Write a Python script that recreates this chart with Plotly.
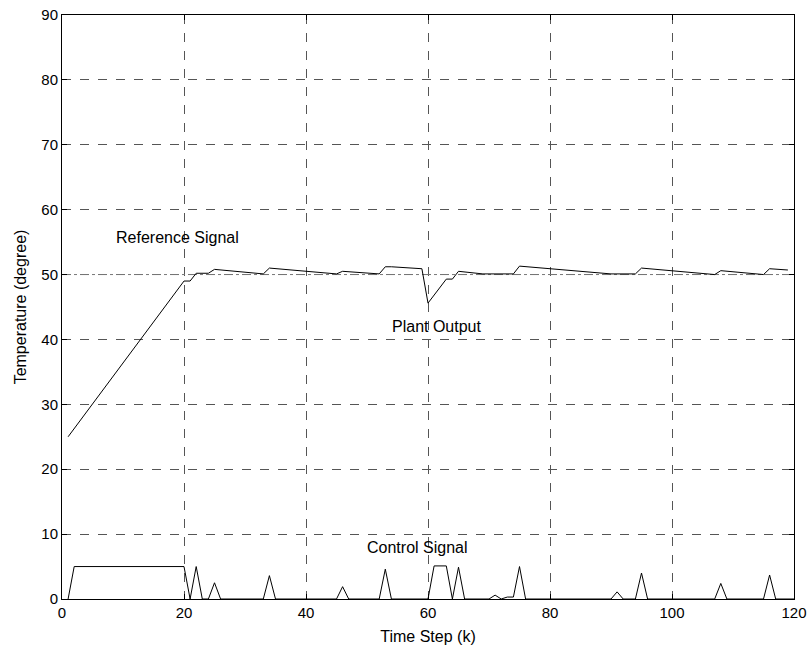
import plotly.graph_objects as go

# Plant output (breakpoints)
plant_k = [1, 20, 21, 22, 24, 25, 33, 34, 45, 46, 52, 53, 54, 59, 60, 63, 64, 65,
           69, 74, 75, 90, 94, 95, 107, 108, 115, 116, 119]
plant_y = [25, 49, 49, 50.2, 50.2, 50.8, 50.1, 51.0, 50.1, 50.5, 50.1, 51.2, 51.2,
           50.9, 45.6, 49.3, 49.3, 50.5, 50.1, 50.1, 51.3, 50.1, 50.1, 51.0, 50.0,
           50.6, 50.0, 50.9, 50.7]

# Reference signal
ref_k = [0, 120]
ref_y = [50, 50]

# Control signal (breakpoints)
ctrl_k = [1, 2, 20, 21, 22, 23, 24, 25, 26, 33, 34, 35, 45, 46, 47, 52, 53, 54,
          60, 61, 63, 64, 65, 66, 70, 71, 72, 73, 74, 75, 76, 90, 91, 92, 94, 95,
          96, 107, 108, 109, 115, 116, 117, 120]
ctrl_y = [0, 5, 5, 0, 5, 0, 0, 2.5, 0, 0, 3.6, 0, 0, 1.9, 0, 0, 4.6, 0,
          0, 5.1, 5.1, 0, 4.9, 0, 0, 0.6, 0, 0.3, 0.3, 5.0, 0, 0, 1.1, 0, 0, 4.0,
          0, 0, 2.4, 0, 0, 3.7, 0, 0]

x_ticks = [0, 20, 40, 60, 80, 100, 120]
y_ticks = [0, 10, 20, 30, 40, 50, 60, 70, 80, 90]

FONT = "Liberation Sans, Arial, sans-serif"

fig = go.Figure()
fig.add_trace(go.Scatter(x=ref_k, y=ref_y, mode="lines",
                         line=dict(color="#777777", width=1, dash="dashdot"),
                         showlegend=False))
fig.add_trace(go.Scatter(x=plant_k, y=plant_y, mode="lines",
                         line=dict(color="black", width=1), showlegend=False))
fig.add_trace(go.Scatter(x=ctrl_k, y=ctrl_y, mode="lines",
                         line=dict(color="black", width=1), showlegend=False))

annots = [
    dict(x=18.9, y=55.7, text="Reference Signal"),
    dict(x=61.5, y=42.0, text="Plant Output"),
    dict(x=58.2, y=8.0, text="Control Signal"),
]
for a in annots:
    fig.add_annotation(x=a["x"], y=a["y"], text=a["text"], showarrow=False,
                       font=dict(family=FONT, size=16, color="black"))

axis_common = dict(
    showline=True, linecolor="black", linewidth=1, mirror="ticks",
    ticks="inside", ticklen=5, tickcolor="black",
    showgrid=True, gridcolor="#555555", gridwidth=1, griddash="dash",
    zeroline=False, automargin=False,
    tickfont=dict(family=FONT, size=15, color="black"),
)

fig.update_xaxes(range=[0, 120], tickvals=x_ticks,
                 title=dict(text="Time Step (k)", font=dict(family=FONT, size=16, color="black"),
                            standoff=10),
                 **axis_common)
fig.update_yaxes(range=[0, 90], tickvals=y_ticks,
                 title=dict(text="Temperature (degree)", font=dict(family=FONT, size=16, color="black"),
                            standoff=10),
                 **axis_common)

fig.update_layout(
    width=811, height=650,
    margin=dict(l=62, r=17, t=15, b=51),
    plot_bgcolor="white", paper_bgcolor="white",
    font=dict(family=FONT, size=15, color="black"),
)

fig.write_html("out.html")
